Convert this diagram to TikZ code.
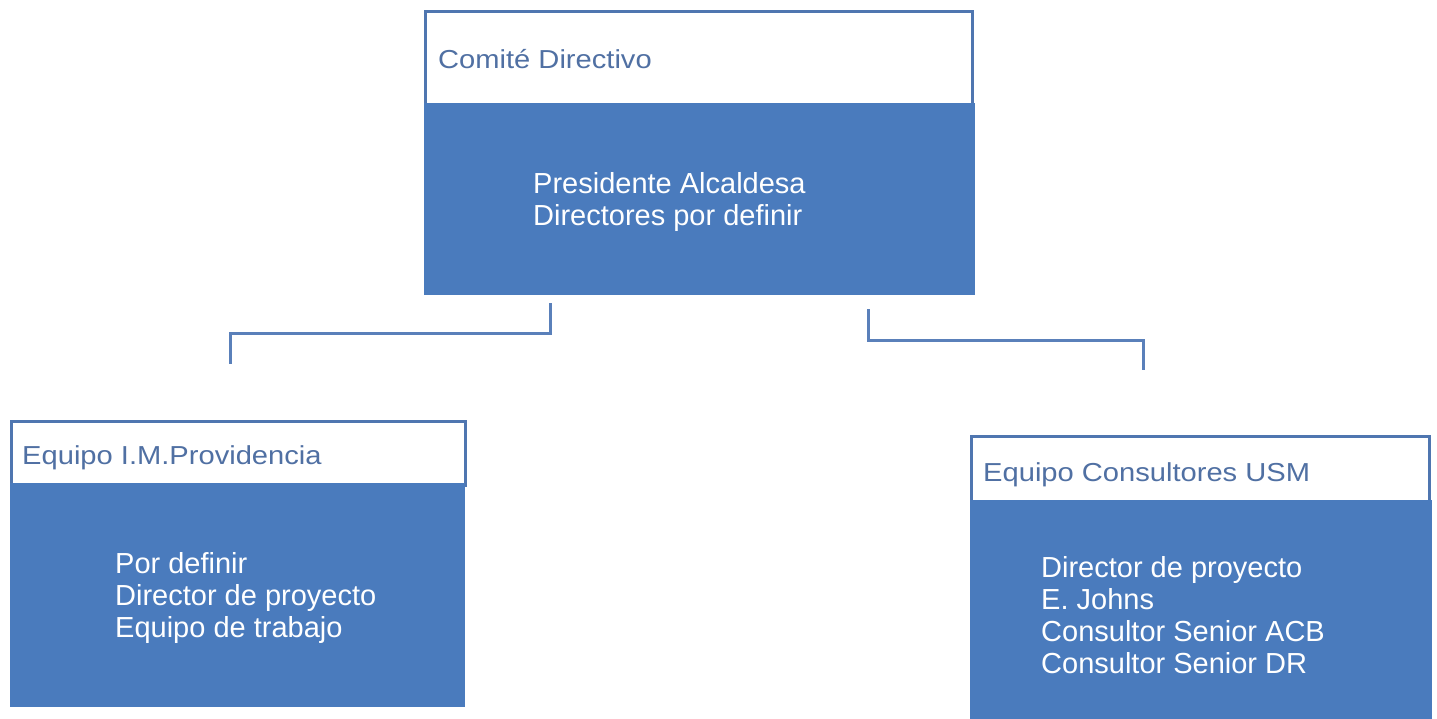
\documentclass[tikz,border=0pt]{standalone}
\usepackage{fontspec}
\setmainfont{Liberation Sans}
\newfontfamily\hdrfont[FakeStretch=1.12]{Liberation Sans}
\definecolor{bodyblue}{HTML}{4A7BBD}
\definecolor{edgeblue}{HTML}{4F76B0}
\definecolor{hdrtext}{HTML}{5070A3}
\definecolor{linkblue}{HTML}{5A80BA}
\tikzset{
  hdrbox/.style={draw=edgeblue, line width=2.5pt, fill=white, rectangle, inner sep=0pt, anchor=north west},
  bodybox/.style={fill=bodyblue, draw=none, rectangle, inner sep=0pt, anchor=north west},
  hdrlabel/.style={anchor=base west, inner sep=0pt, text=hdrtext, font=\hdrfont\fontsize{26}{30}\selectfont},
  bodylabel/.style={anchor=base west, inner sep=0pt, text=white, font=\fontsize{29}{32}\selectfont},
  link/.style={draw=linkblue, line width=3pt}
}
\begin{document}
\begin{tikzpicture}[x=1pt,y=-1pt]
\useasboundingbox (0,0) rectangle (1437,718);
% top box
\node[hdrbox, minimum width=547pt, minimum height=93pt] (topH) at (424,10) {};
\node[bodybox, minimum width=551pt, minimum height=192pt] (topB) at (424,103) {};
\node[hdrlabel] (topHT) at (438,68) {Comité Directivo};
\node[bodylabel] (topBT) at (533,193) {\vtop{\hbox{Presidente Alcaldesa}\hbox{Directores por definir}}};
% left box
\node[hdrbox, minimum width=454pt, minimum height=64pt] (leftH) at (10,420) {};
\node[bodybox, minimum width=455pt, minimum height=224pt] (leftB) at (10,483) {};
\node[hdrlabel] (leftHT) at (22,464) {Equipo I.M.Providencia};
\node[bodylabel] (leftBT) at (115,573) {\vtop{\hbox{Por definir}\hbox{Director de proyecto}\hbox{Equipo de trabajo}}};
% right box
\node[hdrbox, minimum width=458pt, minimum height=65pt] (rightH) at (970,435) {};
\node[bodybox, minimum width=462pt, minimum height=230pt] (rightB) at (970,500) {};
\node[hdrlabel] (rightHT) at (983,481) {Equipo Consultores USM};
\node[bodylabel] (rightBT) at (1041,577) {\vtop{\hbox{Director de proyecto}\hbox{E. Johns}\hbox{Consultor Senior ACB}\hbox{Consultor Senior DR}}};
% connectors
\coordinate (c1s) at (550,303);
\coordinate (c1e) at (230,364);
\coordinate (c2s) at (868,309);
\coordinate (c2e) at (1143,370);
\draw[link] (c1s) -- ++(0,30) -| (c1e);
\draw[link] (c2s) -- ++(0,31) -| (c2e);
\end{tikzpicture}
\end{document}
